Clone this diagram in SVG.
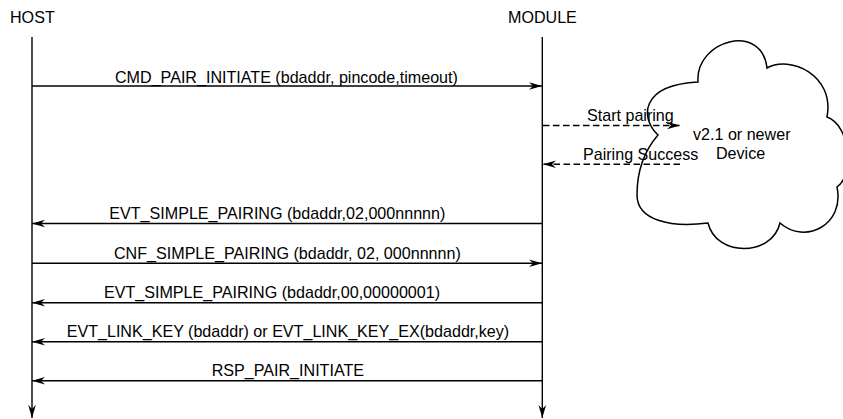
<svg xmlns="http://www.w3.org/2000/svg" width="843" height="419" viewBox="0 0 843 419">
<style>
  text { font-family: "Liberation Sans", Arial, sans-serif; font-size: 16.1px; fill: #000; }
  .life { stroke: #000; stroke-width: 1.4; fill: none; }
  .msg { stroke: #000; stroke-width: 1.4; fill: none; }
  .dash { stroke-dasharray: 6.5 3.5; }
  .cloud { stroke: #000; stroke-width: 1.5; fill: none; }
</style>
<defs>
  <marker id="ah" markerUnits="userSpaceOnUse" markerWidth="16" markerHeight="10" viewBox="-14 -5 16 10" refX="0" refY="0" orient="auto">
    <path d="M0,0 L-13,-3.8 L-9,0 L-13,3.8 Z" fill="#000"/>
  </marker>
</defs>
<rect width="843" height="419" fill="#fff"/>
<g id="host">
  <text x="10" y="22.5">HOST</text>
  <line class="life" x1="32" y1="37" x2="32" y2="418" marker-end="url(#ah)"/>
</g>
<g id="module">
  <text x="508" y="22.5">MODULE</text>
  <line class="life" x1="542.3" y1="37" x2="542.3" y2="418" marker-end="url(#ah)"/>
</g>
<g id="device">
  <path class="cloud" d="M698,82 C695,40 762,22 767,68 C790,55 835,75 827,117 C850,125 855,175 837,187 C845,225 805,245 780,223 C772,257 716,257 708,223 C670,228 637,220 637,195 C637,170 645,150 658,135 C640,118 640,85 698,82 Z"/>
  <text x="693" y="140">v2.1 or newer</text>
  <text x="716" y="159.3">Device</text>
</g>
<g id="connectors">
  <line class="msg" x1="32" y1="86" x2="542" y2="86" marker-end="url(#ah)"/>
  <text x="115" y="82.5">CMD_PAIR_INITIATE (bdaddr, pincode,timeout)</text>

  <line class="msg dash" x1="543" y1="125.5" x2="680" y2="125.5" marker-end="url(#ah)"/>
  <text x="587" y="120.7">Start pairing</text>

  <line class="msg dash" x1="680" y1="164.3" x2="543" y2="164.3" marker-end="url(#ah)"/>
  <text x="583" y="159.6">Pairing Success</text>

  <line class="msg" x1="542" y1="223.5" x2="32" y2="223.5" marker-end="url(#ah)"/>
  <text x="109.3" y="219">EVT_SIMPLE_PAIRING (bdaddr,02,000nnnnn)</text>

  <line class="msg" x1="32" y1="263.3" x2="542" y2="263.3" marker-end="url(#ah)"/>
  <text x="114" y="258.6">CNF_SIMPLE_PAIRING (bdaddr, 02, 000nnnnn)</text>

  <line class="msg" x1="542" y1="302.7" x2="32" y2="302.7" marker-end="url(#ah)"/>
  <text x="104" y="298">EVT_SIMPLE_PAIRING (bdaddr,00,00000001)</text>

  <line class="msg" x1="542" y1="341.8" x2="32" y2="341.8" marker-end="url(#ah)"/>
  <text x="66.7" y="337.2">EVT_LINK_KEY (bdaddr) or EVT_LINK_KEY_EX(bdaddr,key)</text>

  <line class="msg" x1="542" y1="380.8" x2="32" y2="380.8" marker-end="url(#ah)"/>
  <text x="211.7" y="376.3">RSP_PAIR_INITIATE</text>
</g>
</svg>
